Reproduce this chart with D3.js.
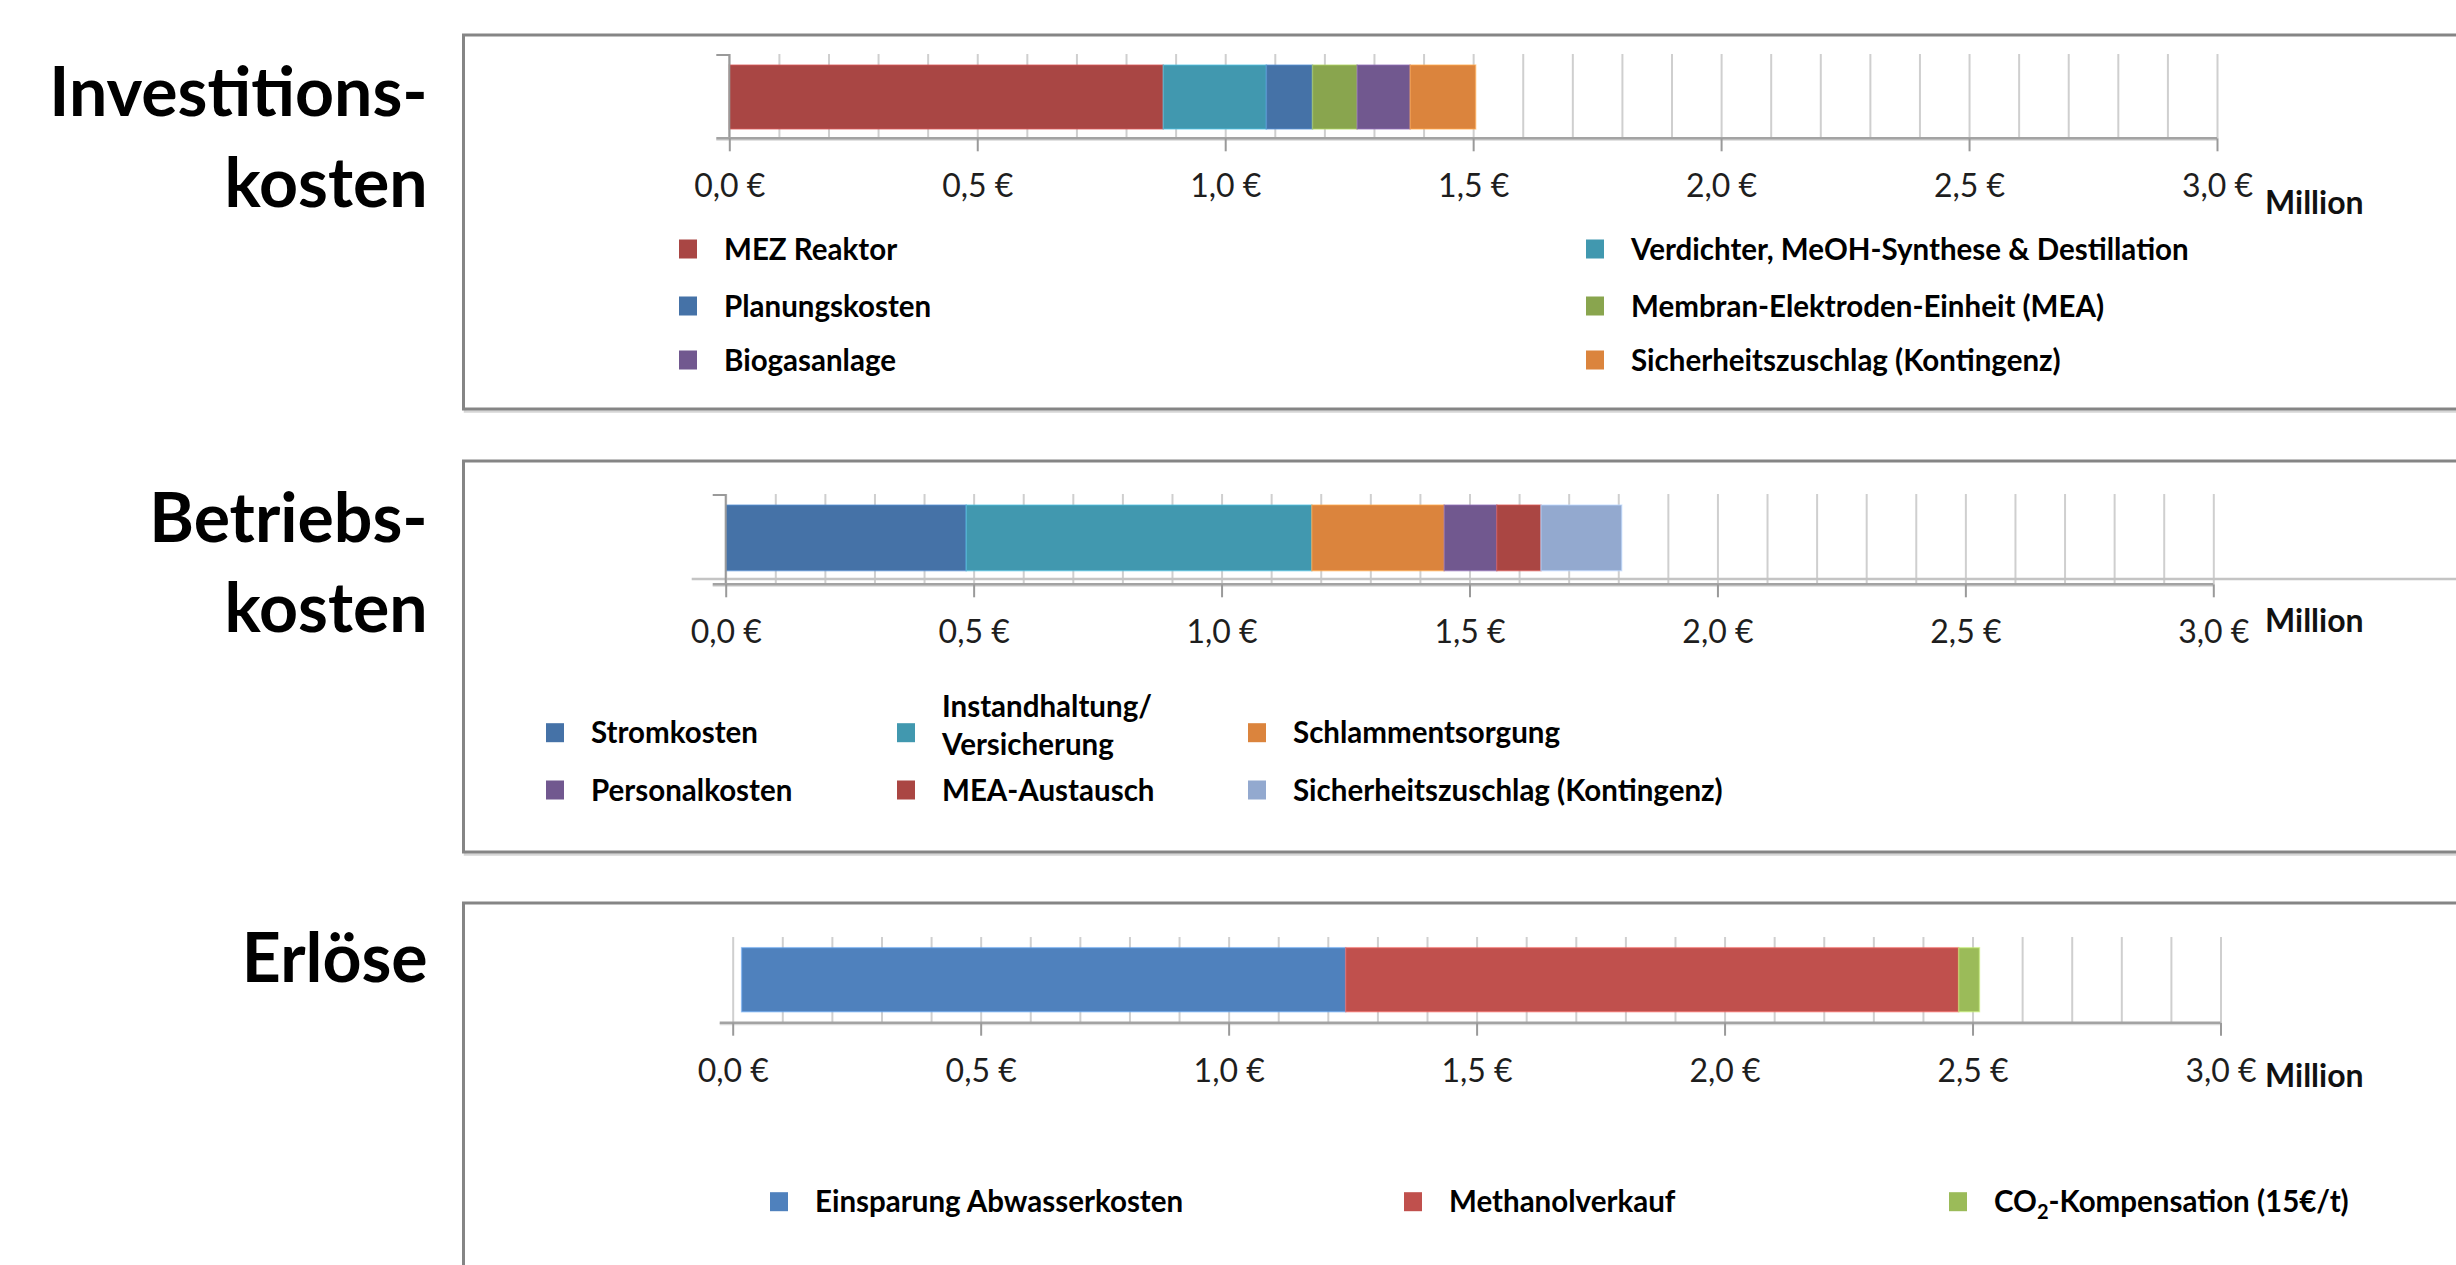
<!DOCTYPE html>
<html lang="de">
<head>
<meta charset="utf-8">
<title>Kosten und Erlöse</title>
<script src="https://cdn.jsdelivr.net/npm/d3@7/dist/d3.min.js"></script>
<style>
  html, body { margin: 0; padding: 0; background: #ffffff; }
  svg { display: block; }
  .title { font-family: Lato, "Open Sans", sans-serif; font-weight: 700; font-size: 68px; fill: #000; }
  .tick-label { font-family: Lato, "Noto Sans", sans-serif; font-size: 32px; fill: #1e1e1e; }
  .unit { font-family: Lato, "Noto Sans", sans-serif; font-weight: 700; font-size: 32px; fill: #111; }
  .legend-text { font-family: Lato, "Noto Sans", sans-serif; font-weight: 700; font-size: 29.5px; fill: #000; }
</style>
</head>
<body>
<svg id="chart" width="2456" height="1265"></svg>
<script>
// ---- Werte in Mio. € ----
const investCategories = ["MEZ Reaktor", "Verdichter, MeOH-Synthese & Destillation", "Planungskosten",
  "Membran-Elektroden-Einheit (MEA)", "Biogasanlage", "Sicherheitszuschlag (Kontingenz)"];
const investValues = [0.875, 0.208, 0.093, 0.090, 0.107, 0.132];

const operatingCategories = ["Stromkosten", "Instandhaltung/\nVersicherung", "Schlammentsorgung",
  "Personalkosten", "MEA-Austausch", "Sicherheitszuschlag (Kontingenz)"];
const operatingValues = [0.485, 0.697, 0.267, 0.106, 0.089, 0.163];

const revenueCategories = ["Einsparung Abwasserkosten", "Methanolverkauf", "CO2-Kompensation (15€/t)"];
const revenueValues = [1.218, 1.236, 0.042];
const revenueStart = 0.018;

const majorTicks = [0, 0.5, 1.0, 1.5, 2.0, 2.5, 3.0];
const unitLabel = "Million";

// ---- Farben ----
const investColors = ["#A94644", "#4198AF", "#4572A7", "#89A54E", "#71588F", "#DB843D"];
const operatingColors = ["#4572A7", "#4198AF", "#DB843D", "#71588F", "#AA4643", "#93A9CF"];
const revenueColors = ["#4F81BD", "#C0504D", "#9BBB59"];

const euro = d3.formatLocale({ decimal: ",", thousands: ".", grouping: [3], currency: ["", " €"] }).format("$.1f");

const svg = d3.select("#chart");

// Panel layout (pixel geometry of each boxed chart)
const panels = [
  {
    title: ["Investitions-", "kosten"], titleBaselines: [116, 207],
    categories: investCategories, values: investValues, colors: investColors, start: 0,
    boxTop: 35, boxBottom: 409,
    x0: 729.3, x3: 2217, gridTop: 54, axisY: 138.3, barTop: 65, barBottom: 129,
    labelY: 197, unitY: 214, categoryAxis: true, extraLineY: null,
    legendCols: [679, 1586], legendRows: [249, 306, 360], legendTextGap: 45
  },
  {
    title: ["Betriebs-", "kosten"], titleBaselines: [541.5, 632.4],
    categories: operatingCategories, values: operatingValues, colors: operatingColors, start: 0,
    boxTop: 461, boxBottom: 852,
    x0: 725.7, x3: 2213.3, gridTop: 494, axisY: 584.3, barTop: 505, barBottom: 570.7,
    labelY: 643, unitY: 632, categoryAxis: true, extraLineY: 579,
    legendCols: [546, 897, 1248], legendRows: [732.7, 790], legendTextGap: 45
  },
  {
    title: ["Erlöse"], titleBaselines: [981.7],
    categories: revenueCategories, values: revenueValues, colors: revenueColors, start: revenueStart,
    boxTop: 903, boxBottom: 1320,
    x0: 732.7, x3: 2220.5, gridTop: 937, axisY: 1022.7, barTop: 947.7, barBottom: 1011.7,
    labelY: 1082, unitY: 1087, categoryAxis: false, extraLineY: null,
    legendCols: [770, 1404, 1949], legendRows: [1201.7], legendTextGap: 45
  }
];

panels.forEach(p => {
  const g = svg.append("g");

  // section title
  p.title.forEach((t, i) => {
    g.append("text").attr("class", "title")
      .attr("x", 427.7).attr("y", p.titleBaselines[i])
      .attr("text-anchor", "end").text(t);
  });

  // frame with soft shadow
  g.append("rect")
    .attr("x", 465).attr("y", p.boxTop + 2.5)
    .attr("width", 2100).attr("height", p.boxBottom - p.boxTop)
    .attr("fill", "none").attr("stroke", "#d6d6d6").attr("stroke-width", 2.5);
  g.append("rect")
    .attr("x", 463.5).attr("y", p.boxTop)
    .attr("width", 2100).attr("height", p.boxBottom - p.boxTop)
    .attr("fill", "#ffffff").attr("stroke", "#858585").attr("stroke-width", 3);

  const x = d3.scaleLinear().domain([0, 3]).range([p.x0, p.x3]);
  const minorTicks = x.ticks(30);

  // vertical gridlines every 0.1 Mio.
  g.append("g")
    .attr("transform", `translate(0,${p.axisY})`)
    .call(d3.axisBottom(x).tickValues(minorTicks).tickSize(-(p.axisY - p.gridTop)).tickFormat(""))
    .call(s => s.select(".domain").remove())
    .call(s => s.selectAll(".tick line").attr("stroke", "#cfcfcf").attr("stroke-width", 2));

  if (p.extraLineY !== null) {
    g.append("line")
      .attr("x1", p.x0 - 34).attr("x2", 2456)
      .attr("y1", p.extraLineY).attr("y2", p.extraLineY)
      .attr("stroke", "#c4c4c4").attr("stroke-width", 2.5);
  }

  // stacked bar
  const ends = d3.cumsum(p.values).map(v => v + p.start);
  const segs = p.values.map((v, i) => ({ from: ends[i] - v, to: ends[i], color: p.colors[i] }));
  g.append("g").selectAll("rect").data(segs).join("rect")
    .attr("x", d => x(d.from))
    .attr("width", d => x(d.to) - x(d.from))
    .attr("y", p.barTop).attr("height", p.barBottom - p.barTop)
    .attr("fill", d => d.color)
    .attr("stroke", d => d3.color(d.color).brighter(0.7))
    .attr("stroke-opacity", 0.55).attr("stroke-width", 1.5);

  // category axis (left) with its single tick
  if (p.categoryAxis) {
    g.append("line")
      .attr("x1", x(0)).attr("x2", x(0)).attr("y1", p.gridTop).attr("y2", p.axisY)
      .attr("stroke", "#9a9a9a").attr("stroke-width", 2);
    g.append("line")
      .attr("x1", x(0) - 13).attr("x2", x(0)).attr("y1", p.gridTop + 1).attr("y2", p.gridTop + 1)
      .attr("stroke", "#9a9a9a").attr("stroke-width", 2);
  }

  // value axis line
  g.append("line")
    .attr("x1", x(0) - 13).attr("x2", x(3))
    .attr("y1", p.axisY + 1.5).attr("y2", p.axisY + 1.5)
    .attr("stroke", "#d8d8d8").attr("stroke-width", 2);
  g.append("line")
    .attr("x1", x(0) - 13).attr("x2", x(3))
    .attr("y1", p.axisY).attr("y2", p.axisY)
    .attr("stroke", "#a3a3a3").attr("stroke-width", 2.5);

  // major ticks + labels
  const axis = g.append("g")
    .attr("transform", `translate(0,${p.axisY})`)
    .call(d3.axisBottom(x).tickValues(majorTicks).tickSize(13).tickFormat(euro));
  axis.select(".domain").remove();
  axis.selectAll(".tick line").attr("stroke", "#9a9a9a").attr("stroke-width", 2);
  axis.selectAll(".tick text")
    .attr("class", "tick-label")
    .attr("fill", null).attr("font-size", null).attr("font-family", null)
    .attr("y", p.labelY - p.axisY).attr("dy", null);
  axis.attr("font-size", null).attr("font-family", null);

  g.append("text").attr("class", "unit")
    .attr("x", 2265).attr("y", p.unitY).text(unitLabel);

  // legend
  const nCols = p.legendCols.length;
  p.categories.forEach((name, i) => {
    const cx = p.legendCols[i % nCols];
    const cy = p.legendRows[Math.floor(i / nCols)];
    g.append("rect")
      .attr("x", cx).attr("y", cy - 9.5).attr("width", 18).attr("height", 19)
      .attr("fill", p.colors[i]);
    const t = g.append("text").attr("class", "legend-text")
      .attr("x", cx + p.legendTextGap).attr("y", cy).attr("dy", "0.36em");
    const lines = name.split("\n");
    if (lines.length > 1) {
      lines.forEach((ln, k) => {
        t.append("tspan").attr("x", cx + p.legendTextGap)
          .attr("dy", k === 0 ? "-0.53em" : "1.3em").text(ln);
      });
    } else if (name.startsWith("CO2")) {
      t.append("tspan").text("CO");
      t.append("tspan").attr("font-size", 20).attr("dy", 7).text("2");
      t.append("tspan").attr("dy", -7).text(name.slice(3));
    } else {
      t.text(name);
    }
  });
});
</script>
</body>
</html>
